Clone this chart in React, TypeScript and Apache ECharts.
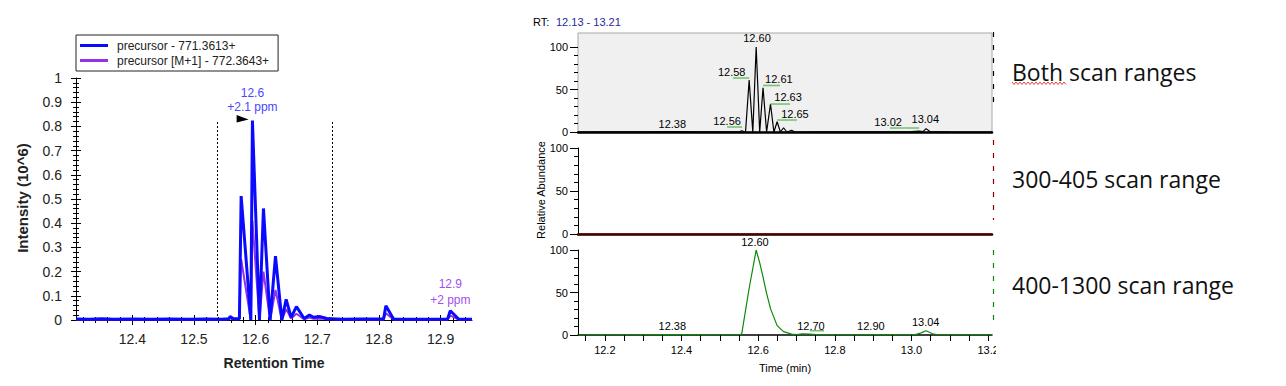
import React, { useEffect, useRef } from "react";
import * as echarts from "echarts";

// ---------------- Left chart data (Skyline-style chromatogram) ----------------
const leftTimes = [12.309, 12.33, 12.35, 12.37, 12.4, 12.43, 12.46, 12.49, 12.52, 12.545, 12.556, 12.5586, 12.5635, 12.5737, 12.5765, 12.5922, 12.5948, 12.6062, 12.6127, 12.6235, 12.6322, 12.6425, 12.6495, 12.6576, 12.6662, 12.6787, 12.6873, 12.6938, 12.7047, 12.7156, 12.74, 12.77, 12.8075, 12.8113, 12.8237, 12.85, 12.88, 12.9114, 12.9158, 12.9293, 12.951];
const precursor = [0.004, 0.003, 0.005, 0.003, 0.004, 0.003, 0.004, 0.003, 0.004, 0.003, 0.005, 0.014, 0.006, 0.005, 0.512, 0, 0.824, 0, 0.461, 0, 0.264, 0, 0.085, 0.011, 0.055, 0.006, 0.021, 0.011, 0.014, 0.006, 0.003, 0.004, 0.004, 0.059, 0.004, 0.003, 0.003, 0.004, 0.038, 0.004, 0.003];
const precursorM1 = [0.002, 0.002, 0.003, 0.002, 0.002, 0.002, 0.002, 0.002, 0.002, 0.002, 0.003, 0.007, 0.003, 0.003, 0.251, 0, 0.41, 0, 0.2, 0, 0.124, 0, 0.045, 0.006, 0.026, 0.003, 0.01, 0.005, 0.006, 0.003, 0.002, 0.002, 0.002, 0.028, 0.002, 0.002, 0.002, 0.002, 0.018, 0.002, 0.002];
const seriesNames = ["precursor - 771.3613+", "precursor [M+1] - 772.3643+"];
const leftXLabels = [12.4, 12.5, 12.6, 12.7, 12.8, 12.9];
const integrationBounds = [12.537, 12.724];
const integrationTop = 0.826;
const leftNotes = [
  { t: 12.5948, v: 0.824, lines: ["12.6", "+2.1 ppm"], color: "#4848ff", arrow: true },
  { t: 12.9158, v: 0.038, lines: ["12.9", "+2 ppm"], color: "#a24ff2", arrow: false },
];

// ---------------- Right chart data (Xcalibur-style, 3 panels) ----------------
const topTimes = [12.13, 12.2, 12.3, 12.38, 12.45, 12.52, 12.55, 12.557, 12.567, 12.5765, 12.586, 12.5948, 12.604, 12.6127, 12.622, 12.6322, 12.641, 12.6495, 12.658, 12.6662, 12.675, 12.6873, 12.696, 12.75, 12.85, 12.95, 13.0, 13.02, 13.03, 13.038, 13.048, 13.1, 13.21];
const topValues = [0, 0.2, 0.3, 0.5, 0.2, 0.3, 0.3, 1.5, 0, 61, 0, 100, 0, 52, 0, 33, 0, 12, 0, 5, 0, 2, 0, 0.3, 0.2, 0.3, 0.4, 1, 0.5, 4, 0.5, 0.2, 0];
const midTimes = [12.13, 13.21];
const midValues = [0, 0];
const bottomTimes = [12.13, 12.25, 12.38, 12.5, 12.55, 12.557, 12.5765, 12.5948, 12.6046, 12.6127, 12.622, 12.6322, 12.6495, 12.6662, 12.6873, 12.7, 12.715, 12.735, 12.76, 12.85, 12.9, 12.97, 13.01, 13.025, 13.038, 13.055, 13.07, 13.21];
const bottomValues = [0, 0.2, 0.4, 0.2, 0.3, 1, 55, 100, 84, 68, 49, 31, 11, 4, 1, 0.5, 1.5, 1.2, 0.3, 0.2, 0.6, 0.3, 0.5, 2.5, 5, 1.5, 0.3, 0.2];
const rightXLabels = [12.2, 12.4, 12.6, 12.8, 13.0, 13.2];
const rightYLabels = [0, 50, 100];

// peak labels: label, t (center), v (center), green connector [t1, t2, v]
const topPeakLabels = [
  { label: "12.38", t: 12.376, v: 9.4, g: null },
  { label: "12.56", t: 12.519, v: 12.9, g: [12.519, 12.558, 5.9] },
  { label: "12.58", t: 12.531, v: 70.6, g: [12.534, 12.5765, 63.5] },
  { label: "12.60", t: 12.597, v: 110.6, g: null },
  { label: "12.61", t: 12.654, v: 62.4, g: [12.6127, 12.657, 54.7] },
  { label: "12.63", t: 12.678, v: 41.2, g: [12.6322, 12.683, 32.9] },
  { label: "12.65", t: 12.696, v: 21.2, g: [12.6495, 12.701, 14.1] },
  { label: "13.02", t: 12.939, v: 11.8, g: [12.944, 12.98, 4.7] },
  { label: "13.04", t: 13.036, v: 15.3, g: [12.981, 13.02, 4.7] },
];
const bottomPeakLabels = [
  { label: "12.60", t: 12.5915, v: 109.4, g: null },
  { label: "12.38", t: 12.376, v: 10.6, g: null },
  { label: "12.70", t: 12.7376, v: 10.6, g: [12.735, 12.772, 5] },
  { label: "12.90", t: 12.894, v: 10.6, g: null },
  { label: "13.04", t: 13.037, v: 15.6, g: null },
];

const FONT = '"Liberation Sans", Arial, sans-serif';
const zip = (xs: number[], ys: number[]) => xs.map((x, i) => [x, ys[i]]);

function minorTicks(min: number, max: number, step: number, majors: number[]) {
  const out: number[] = [];
  const n = Math.round((max - min) / step);
  for (let i = 0; i <= n; i++) {
    const v = Math.round((min + i * step) * 1000) / 1000;
    if (!majors.some((m) => Math.abs(m - v) < 1e-6)) out.push(v);
  }
  return out;
}

function buildOption(): any {
  const LX_MIN = 12.3086;
  const LX_MAX = 12.951;
  const RX_MIN = 12.13;
  const RX_MAX = 13.21;
  const TOP_MAX = (100 * 99) / 85;
  const leftMinor = minorTicks(12.32, 12.94, 0.02, leftXLabels);
  const rightMinor = minorTicks(12.15, 13.2, 0.05, []);

  const black = { color: "#000", width: 1 };

  const rightY = (gridIndex: number, max: number, showLine: boolean) => [
    {
      type: "value", gridIndex, min: 0, max, position: "left",
      axisLine: { show: showLine, lineStyle: black },
      axisTick: { show: true, customValues: rightYLabels, length: 8, lineStyle: black },
      axisLabel: { customValues: rightYLabels, fontSize: 11, color: "#000", margin: 10, fontFamily: FONT },
      splitLine: { show: false },
    },
    {
      type: "value", gridIndex, min: 0, max, position: "left", offset: 0,
      axisLine: { show: false },
      axisTick: { show: true, customValues: [10, 20, 30, 40, 60, 70, 80, 90], length: 4, lineStyle: black },
      axisLabel: { show: false },
      splitLine: { show: false },
    },
  ];

  const peakLabelSeries = (notes: any[], xAxisIndex: number, yAxisIndex: number) => ({
    type: "custom", xAxisIndex, yAxisIndex, silent: true, clip: false, z: 6,
    data: notes.map((n) => [n.t, n.v]),
    renderItem: (params: any, api: any) => {
      const n = notes[params.dataIndex];
      const p = api.coord([n.t, n.v]);
      const children: any[] = [
        {
          type: "text", x: p[0], y: p[1],
          style: { text: n.label, textAlign: "center", textVerticalAlign: "middle", align: "center", verticalAlign: "middle", fontSize: 11, fontFamily: FONT, fill: "#000" },
        },
      ];
      if (n.g) {
        const a = api.coord([n.g[0], n.g[2]]);
        const b = api.coord([n.g[1], n.g[2]]);
        children.push({ type: "line", shape: { x1: a[0], y1: a[1], x2: b[0], y2: b[1] }, style: { stroke: "#6cc26c", lineWidth: 1.5 } });
      }
      return { type: "group", children };
    },
  });

  const squiggle: number[][] = [];
  for (let i = 0; i <= 27; i++) squiggle.push([i * 2, i % 2 === 0 ? 0 : 2.5]);

  return {
    animation: false,
    backgroundColor: "#fff",
    textStyle: { fontFamily: FONT },
    legend: {
      data: seriesNames,
      left: 76, top: 35, orient: "vertical",
      icon: "rect", itemWidth: 28, itemHeight: 3, itemGap: 0,
      padding: [3, 9, 3, 4],
      borderColor: "#222", borderWidth: 1, backgroundColor: "#fff",
      textStyle: { fontSize: 12, color: "#222", fontFamily: FONT, lineHeight: 15, padding: [0, 0, 0, 4] },
      selectedMode: false,
    },
    grid: [
      { left: 76, top: 78, width: 396, height: 242 },
      { left: 578, top: 33, width: 414, height: 99, show: true, backgroundColor: "#f0f0f0", borderColor: "#a8a8a8", borderWidth: 1 },
      { left: 578, top: 148, width: 414, height: 86 },
      { left: 578, top: 250, width: 414, height: 85 },
    ],
    xAxis: [
      {
        type: "value", gridIndex: 0, min: LX_MIN, max: LX_MAX, position: "bottom",
        axisLine: { lineStyle: black },
        axisTick: { customValues: leftXLabels, length: 5, lineStyle: black },
        axisLabel: { customValues: leftXLabels, formatter: (v: number) => v.toFixed(1), fontSize: 14, color: "#222", margin: 12, fontFamily: FONT },
        splitLine: { show: false },
      },
      {
        type: "value", gridIndex: 0, min: LX_MIN, max: LX_MAX, position: "bottom", offset: 0,
        axisLine: { show: false },
        axisTick: { inside: true, customValues: leftXLabels, length: 5, lineStyle: black },
        axisLabel: { show: false }, splitLine: { show: false },
      },
      {
        type: "value", gridIndex: 0, min: LX_MIN, max: LX_MAX, position: "bottom", offset: 0,
        axisLine: { show: false },
        axisTick: { customValues: leftMinor, length: 3, lineStyle: black },
        axisLabel: { show: false }, splitLine: { show: false },
      },
      {
        type: "value", gridIndex: 0, min: LX_MIN, max: LX_MAX, position: "bottom", offset: 0,
        axisLine: { show: false },
        axisTick: { inside: true, customValues: leftMinor, length: 3, lineStyle: black },
        axisLabel: { show: false }, splitLine: { show: false },
      },
      {
        type: "value", gridIndex: 1, min: RX_MIN, max: RX_MAX,
        axisLine: { lineStyle: { color: "#000", width: 2.5 } },
        axisTick: { show: false }, axisLabel: { show: false }, splitLine: { show: false },
      },
      {
        type: "value", gridIndex: 2, min: RX_MIN, max: RX_MAX,
        axisLine: { lineStyle: { color: "#000", width: 2.5 } },
        axisTick: { show: false }, axisLabel: { show: false }, splitLine: { show: false },
      },
      {
        type: "value", gridIndex: 3, min: RX_MIN, max: RX_MAX,
        axisLine: { lineStyle: { color: "#000", width: 1.5 } },
        axisTick: { customValues: rightMinor, length: 6, lineStyle: black },
        axisLabel: { customValues: rightXLabels, formatter: (v: number) => v.toFixed(1), fontSize: 11, color: "#000", margin: 9, fontFamily: FONT },
        splitLine: { show: false },
      },
    ],
    yAxis: [
      {
        type: "value", gridIndex: 0, min: 0, max: 1, interval: 0.1, position: "left",
        axisLine: { show: true, lineStyle: black },
        axisTick: { show: true, length: 5, lineStyle: black },
        minorTick: { show: true, splitNumber: 5, length: 3, lineStyle: black },
        axisLabel: { fontSize: 14, color: "#222", margin: 14, fontFamily: FONT },
        splitLine: { show: false }, minorSplitLine: { show: false },
      },
      {
        type: "value", gridIndex: 0, min: 0, max: 1, interval: 0.1, position: "left", offset: 0,
        axisLine: { show: false },
        axisTick: { show: true, inside: true, length: 5, lineStyle: black },
        minorTick: { show: true, splitNumber: 5, length: 3, lineStyle: black },
        axisLabel: { show: false },
        splitLine: { show: false }, minorSplitLine: { show: false },
      },
      ...rightY(1, TOP_MAX, false),
      ...rightY(2, 100, true),
      ...rightY(3, 100, true),
    ],
    series: [
      {
        name: seriesNames[1], type: "line", xAxisIndex: 0, yAxisIndex: 0,
        data: zip(leftTimes, precursorM1), showSymbol: false, symbol: "none",
        lineStyle: { color: "#9330e8", width: 2 }, itemStyle: { color: "#9330e8" }, z: 2,
      },
      {
        name: seriesNames[0], type: "line", xAxisIndex: 0, yAxisIndex: 0,
        data: zip(leftTimes, precursor), showSymbol: false, symbol: "none",
        lineStyle: { color: "#0a0aff", width: 3 }, itemStyle: { color: "#0a0aff" }, z: 3,
        markLine: {
          silent: true, symbol: "none", label: { show: false },
          lineStyle: { color: "#000", width: 1, type: [2, 2] },
          data: integrationBounds.map((b) => [{ coord: [b, 0] }, { coord: [b, integrationTop] }]),
        },
      },
      {
        type: "custom", xAxisIndex: 0, yAxisIndex: 0, silent: true, clip: false, z: 6,
        data: leftNotes.map((n) => [n.t, n.v]),
        renderItem: (params: any, api: any) => {
          const n = leftNotes[params.dataIndex];
          const p = api.coord([n.t, n.v]);
          const d1 = n.arrow ? -27.4 : -26.4;
          const d2 = n.arrow ? -14 : -10.7;
          const children: any[] = [
            { type: "text", x: p[0], y: p[1] + d1, style: { text: n.lines[0], textAlign: "center", textVerticalAlign: "middle", align: "center", verticalAlign: "middle", fontSize: 12, fontFamily: FONT, fill: n.color } },
            { type: "text", x: p[0], y: p[1] + d2, style: { text: n.lines[1], textAlign: "center", textVerticalAlign: "middle", align: "center", verticalAlign: "middle", fontSize: 12, fontFamily: FONT, fill: n.color } },
          ];
          if (n.arrow) {
            children.push({
              type: "polygon",
              shape: { points: [[p[0] - 15.8, p[1] - 5.7], [p[0] - 15.8, p[1] + 1.8], [p[0] - 3.8, p[1] - 1.2]] },
              style: { fill: "#000" },
            });
          }
          return { type: "group", children };
        },
      },
      {
        type: "line", xAxisIndex: 4, yAxisIndex: 2, data: zip(topTimes, topValues),
        showSymbol: false, symbol: "none", lineStyle: { color: "#000", width: 1.2 }, z: 3,
      },
      {
        type: "line", xAxisIndex: 5, yAxisIndex: 4, data: zip(midTimes, midValues),
        showSymbol: false, symbol: "none", lineStyle: { color: "#8b0000", width: 1.5 }, z: 3,
      },
      {
        type: "line", xAxisIndex: 6, yAxisIndex: 6, data: zip(bottomTimes, bottomValues),
        showSymbol: false, symbol: "none", lineStyle: { color: "#0a8a0a", width: 1.2 }, z: 3,
      },
      peakLabelSeries(topPeakLabels, 4, 2),
      peakLabelSeries(bottomPeakLabels, 6, 6),
    ],
    graphic: [
      { type: "text", x: 22, y: 198, rotation: Math.PI / 2, style: { text: "Intensity (10^6)", textAlign: "center", textVerticalAlign: "middle", align: "center", verticalAlign: "middle", font: `bold 15px ${FONT}`, fill: "#222" } },
      { type: "text", x: 274, y: 363, style: { text: "Retention Time", textAlign: "center", textVerticalAlign: "middle", align: "center", verticalAlign: "middle", font: `bold 14px ${FONT}`, fill: "#222" } },
      { type: "text", x: 533, y: 22, style: { text: "RT:", textVerticalAlign: "middle", verticalAlign: "middle", font: `11px ${FONT}`, fill: "#000" } },
      { type: "text", x: 556, y: 22, style: { text: "12.13 - 13.21", textVerticalAlign: "middle", verticalAlign: "middle", font: `11px ${FONT}`, fill: "#1f2a9c" } },
      { type: "text", x: 541, y: 190, rotation: Math.PI / 2, style: { text: "Relative Abundance", textAlign: "center", textVerticalAlign: "middle", align: "center", verticalAlign: "middle", font: `11px ${FONT}`, fill: "#000" } },
      { type: "text", x: 785, y: 368, style: { text: "Time (min)", textAlign: "center", textVerticalAlign: "middle", align: "center", verticalAlign: "middle", font: `11px ${FONT}`, fill: "#000" } },
      { type: "rect", shape: { x: 996, y: 338, width: 12, height: 24 }, style: { fill: "#fff" }, z: 100 },
      { type: "line", shape: { x1: 993.5, y1: 32, x2: 993.5, y2: 105 }, style: { stroke: "#000", lineWidth: 1.2, lineDash: [5, 8] } },
      { type: "line", shape: { x1: 993.5, y1: 140, x2: 993.5, y2: 220 }, style: { stroke: "#8b0000", lineWidth: 1.2, lineDash: [5, 8] } },
      { type: "line", shape: { x1: 993.5, y1: 250, x2: 993.5, y2: 322 }, style: { stroke: "#0a8a0a", lineWidth: 1.2, lineDash: [5, 8] } },
      { type: "text", x: 1012, y: 72, style: { text: "Both scan ranges", textVerticalAlign: "middle", verticalAlign: "middle", font: `23px "Open Sans", "Noto Sans", sans-serif`, fill: "#111" } },
      { type: "polyline", x: 1012, y: 82, shape: { points: squiggle }, style: { stroke: "#e0453a", lineWidth: 1, fill: null } },
      { type: "text", x: 1012, y: 179, style: { text: "300-405 scan range", textVerticalAlign: "middle", verticalAlign: "middle", font: `23px "Open Sans", "Noto Sans", sans-serif`, fill: "#111" } },
      { type: "text", x: 1012, y: 285, style: { text: "400-1300 scan range", textVerticalAlign: "middle", verticalAlign: "middle", font: `23px "Open Sans", "Noto Sans", sans-serif`, fill: "#111" } },
    ],
  };
}

export default function App() {
  const ref = useRef<HTMLDivElement>(null);
  useEffect(() => {
    document.body.style.margin = "0";
    const chart = echarts.init(ref.current as HTMLDivElement, null, { renderer: "svg" });
    chart.setOption(buildOption());
    return () => chart.dispose();
  }, []);
  return <div ref={ref} style={{ width: 1286, height: 386, background: "#fff" }} />;
}
